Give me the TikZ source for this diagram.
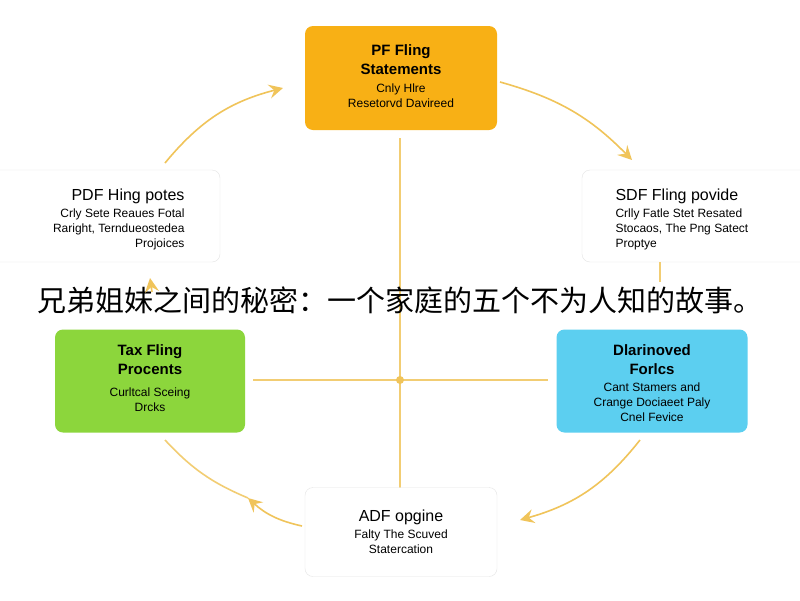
\documentclass[tikz,border=0pt]{standalone}
\usepackage{fontspec}
\setmainfont{Liberation Sans}
\newfontfamily\cjk{Noto Sans CJK SC}
\usetikzlibrary{arrows.meta}
\definecolor{arr}{HTML}{F0C45A}
\definecolor{org}{HTML}{F8B015}
\definecolor{grn}{HTML}{8CD63C}
\definecolor{blu}{HTML}{5CCFF0}
\definecolor{bd}{HTML}{E4E4E4}
\begin{document}
\begin{tikzpicture}[x=1pt,y=-1pt,
 box/.style={rounded corners=8pt,minimum width=#1,align=center,inner sep=4pt},
 tt/.style={align=center,font=\fontsize{15}{19}\selectfont\bfseries},
 tm/.style={font=\fontsize{16}{19}\selectfont},
 st/.style={align=center,font=\fontsize{12}{15}\selectfont},
 con/.style={arr,line width=1.6pt,-{Stealth[length=14pt,width=14pt,inset=5pt]}},
 ln/.style={arr!85!white,line width=1.6pt}]
\useasboundingbox[fill=white] (0,0) rectangle (800,600);
\draw[ln] (400,138) -- (400,488);
\draw[ln] (253,380) -- (548,380);
\fill[arr] (400,380) circle (4);
\node[box, fill=org, minimum width=192pt, minimum height=104pt] (top) at (401,78) {};
\node[tt] (topT) at (401,60) {PF Fling\\Statements};
\node[st] (topS) at (401,96) {Cnly Hlre\\Resetorvd Davireed};
\node[box, fill=white, draw=bd, minimum width=230pt, minimum height=92pt] (lft) at (105,216) {};
\node[tm, anchor=east] (lftT) at (188,196) {PDF Hing potes};
\node[st, align=right, anchor=north east] (lftS) at (188,205) {Crly Sete Reaues Fotal\\Raright, Terndueostedea\\Projoices};
\node[box, fill=white, draw=bd, minimum width=230pt, minimum height=92pt] (rgt) at (697,216) {};
\node[tm, anchor=west] (rgtT) at (612,196) {SDF Fling povide};
\node[st, align=left, anchor=north west] (rgtS) at (612,205) {Crlly Fatle Stet Resated\\Stocaos, The Png Satect\\Proptye};
\node[box, fill=grn, minimum width=190pt, minimum height=103pt] (grn) at (150,381) {};
\node[tt] (grnT) at (150,360) {Tax Fling\\Procents};
\node[st] (grnS) at (150,400) {Curltcal Sceing\\Drcks};
\node[box, fill=blu, minimum width=191pt, minimum height=103pt] (blu) at (652,381) {};
\node[tt] (bluT) at (652,360) {Dlarinoved\\Forlcs};
\node[st] (bluS) at (652,402) {Cant Stamers and\\Crange Dociaeet Paly\\Cnel Fevice};
\node[box, fill=white, draw=bd, minimum width=192pt, minimum height=89pt] (bot) at (401,532) {};
\node[tm] (botT) at (401,517) {ADF opgine};
\node[st] (botS) at (401,542) {Falty The Scuved\\Statercation};
\node[font=\cjk\fontsize{29}{34}\selectfont] (title) at (400,300) {兄弟姐妹之间的秘密：一个家庭的五个不为人知的故事。};
\draw[con] (165,163) to[bend left=18] (283,88);
\draw[con] (500,82) to[bend left=15] (632,160);
\draw[ln] (660,262) -- (660,282);
\draw[con] (640,440) to[bend left=18] (520,520);
\draw[con] (302,526) to[bend left=15] (248,498);
\draw[ln] (248,498) to[bend left=12] (165,440);
\draw[con] (152,292) -- (150,278);
\end{tikzpicture}
\end{document}
